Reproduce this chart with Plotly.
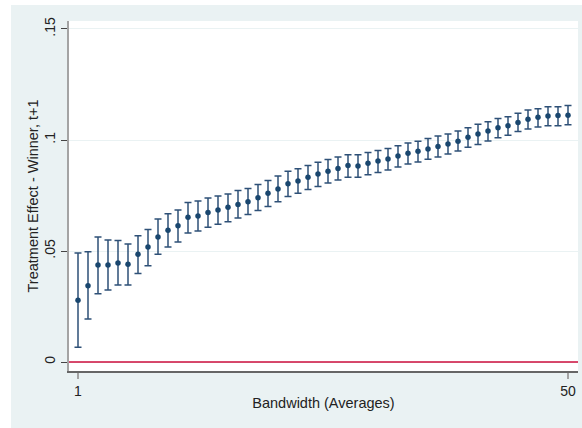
import plotly.graph_objects as go

bandwidth = list(range(1, 51))
estimate = [0.0278, 0.0344, 0.0437, 0.0437, 0.0446, 0.0440, 0.0485, 0.0518, 0.0563, 0.0593,
            0.0614, 0.0652, 0.0658, 0.0673, 0.0685, 0.0697, 0.0710, 0.0722, 0.0740, 0.0760,
            0.0779, 0.0803, 0.0815, 0.0832, 0.0847, 0.0859, 0.0872, 0.0885, 0.0883, 0.0895,
            0.0905, 0.0914, 0.0928, 0.0940, 0.0949, 0.0959, 0.0971, 0.0982, 0.0994, 0.1012,
            0.1027, 0.1041, 0.1055, 0.1064, 0.1079, 0.1093, 0.1102, 0.1108, 0.1110, 0.1111]
ci_lower = [0.0066, 0.0194, 0.0308, 0.0324, 0.0347, 0.0347, 0.0399, 0.0434, 0.0485, 0.0518,
            0.0541, 0.0581, 0.0590, 0.0607, 0.0620, 0.0632, 0.0649, 0.0664, 0.0682, 0.0701,
            0.0722, 0.0745, 0.0760, 0.0777, 0.0791, 0.0806, 0.0820, 0.0832, 0.0832, 0.0844,
            0.0854, 0.0865, 0.0878, 0.0892, 0.0901, 0.0913, 0.0923, 0.0937, 0.0950, 0.0967,
            0.0980, 0.0995, 0.1010, 0.1021, 0.1038, 0.1050, 0.1059, 0.1064, 0.1064, 0.1069]
ci_upper = [0.0491, 0.0497, 0.0563, 0.0550, 0.0547, 0.0532, 0.0569, 0.0597, 0.0644, 0.0668,
            0.0685, 0.0719, 0.0725, 0.0739, 0.0748, 0.0757, 0.0773, 0.0782, 0.0799, 0.0818,
            0.0838, 0.0859, 0.0871, 0.0885, 0.0900, 0.0912, 0.0923, 0.0934, 0.0934, 0.0944,
            0.0953, 0.0962, 0.0974, 0.0986, 0.0994, 0.1007, 0.1018, 0.1027, 0.1041, 0.1055,
            0.1071, 0.1082, 0.1097, 0.1105, 0.1120, 0.1135, 0.1141, 0.1150, 0.1150, 0.1155]

y_tickvals = [0, 0.05, 0.1, 0.15]
y_ticktext = ["0", ".05", ".1", ".15"]
x_tickvals = [1, 50]
x_ticktext = ["1", "50"]

plus = [u - e for u, e in zip(ci_upper, estimate)]
minus = [e - l for e, l in zip(estimate, ci_lower)]

fig = go.Figure()
fig.add_trace(go.Scatter(
    x=bandwidth, y=estimate, mode="markers",
    marker=dict(color="#1a476f", size=5.5),
    error_y=dict(type="data", symmetric=False, array=plus, arrayminus=minus,
                 color="#2e5077", thickness=1.5, width=3.5),
    showlegend=False, hoverinfo="x+y",
))

font = "Liberation Sans, Arial, sans-serif"

# outer light-blue background with white margin at left/top
fig.add_shape(type="rect", xref="paper", yref="paper", x0=-0.1139, x1=1.02, y0=-0.17, y1=1.0457,
              fillcolor="#EAF2F3", line=dict(width=0), layer="below")
fig.add_shape(type="rect", xref="paper", yref="paper", x0=0, x1=1, y0=0, y1=1,
              fillcolor="white", line=dict(width=0), layer="below")
fig.add_shape(type="line", xref="paper", yref="y", x0=0, x1=1, y0=0, y1=0,
              line=dict(color="#cc0e3c", width=1.5))

fig.update_layout(
    width=582, height=428,
    margin=dict(l=69, r=4, t=21, b=57),
    paper_bgcolor="white", plot_bgcolor="white",
    font=dict(family=font, size=14, color="#222222"),
    xaxis=dict(range=[0.1, 51.0], tickvals=x_tickvals, ticktext=x_ticktext, automargin=False,
               showgrid=False, zeroline=False, showline=True, linecolor="#666666", linewidth=1.5,
               ticks="outside", ticklen=6, tickcolor="#a4a4a4", tickwidth=1.5,
               ticklabelstandoff=0,
               title=dict(text="Bandwidth (Averages)", standoff=0, font=dict(size=14.5))),
    yaxis=dict(range=[-0.00405, 0.1536], tickvals=y_tickvals, ticktext=y_ticktext, automargin=False,
               tickangle=-90, showgrid=True, gridcolor="#EAF2F3", gridwidth=1,
               zeroline=False, showline=True, linecolor="#a4a4a4", linewidth=2,
               ticks="outside", ticklen=6, tickcolor="#444444", tickwidth=1,
               ticklabelstandoff=0,
               title=dict(text="Treatment Effect - Winner, t+1", standoff=0, font=dict(size=14.5))),
)

fig.write_html("out.html", config={"displayModeBar": False},
               post_script="document.body.style.margin='0';document.body.style.padding='0';")
